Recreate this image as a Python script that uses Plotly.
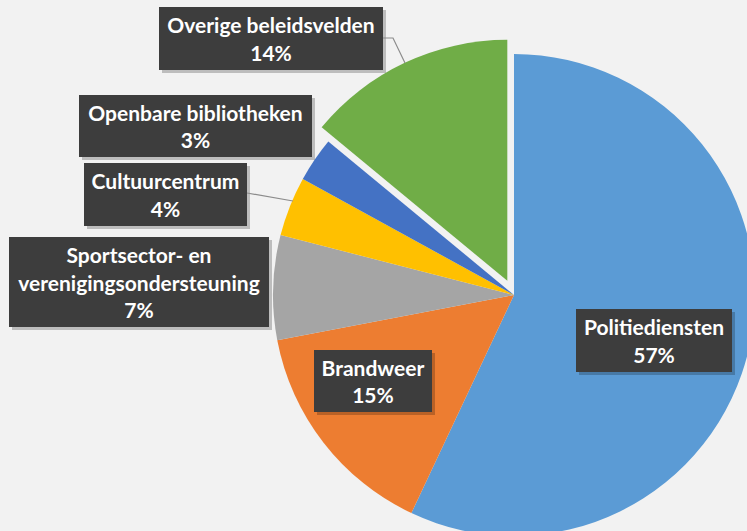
import plotly.graph_objects as go

# ---- data ----
categories = ["Politiediensten", "Brandweer", "Sportsector- en verenigingsondersteuning",
              "Cultuurcentrum", "Openbare bibliotheken", "Overige beleidsvelden"]
display_labels = ["Politiediensten", "Brandweer", "Sportsector- en<br>verenigingsondersteuning",
                  "Cultuurcentrum", "Openbare bibliotheken", "Overige beleidsvelden"]
shares = [57, 15, 7, 4, 3, 14]

# ---- style ----
colors = ["#5B9BD5", "#ED7D31", "#A5A5A5", "#FFC000", "#4472C4", "#70AD47"]
pulls = [0, 0, 0, 0, 0, 0.065]

W, H = 775, 555
cx, cy, r = 514, 295, 241
half = r * (1 + max(pulls))

def px(x):
    return x / W

def py(y):
    return 1 - y / H

fig = go.Figure()
fig.add_trace(go.Pie(
    labels=categories,
    values=shares,
    sort=False,
    direction="clockwise",
    rotation=0,
    pull=pulls,
    marker=dict(colors=colors, line=dict(width=0)),
    textinfo="none",
    hoverinfo="label+percent",
    domain=dict(x=[px(cx - half), px(cx + half)], y=[py(cy + half), py(cy - half)]),
    showlegend=False,
))

# label boxes: (center x, center y, width, height) in pixels
boxes = [
    (654, 340.5, 156, 63),
    (373, 381, 118, 62),
    (139, 282, 260, 90),
    (165.5, 194.5, 163, 63),
    (195.5, 126, 233, 62),
    (271, 38.5, 224, 63),
]

shapes = []
annotations = []
for lab, val, (bx, by, bw, bh) in zip(display_labels, shares, boxes):
    # drop shadow
    shapes.append(dict(type="rect", xref="paper", yref="paper",
                       x0=px(bx - bw / 2 + 3), x1=px(bx + bw / 2 + 3),
                       y0=py(by + bh / 2 + 3), y1=py(by - bh / 2 + 3),
                       line=dict(width=0), fillcolor="rgba(0,0,0,0.22)", layer="above"))
    annotations.append(dict(
        x=px(bx), y=py(by), xref="paper", yref="paper",
        xanchor="center", yanchor="middle",
        text=f"{lab}<br>{val}%", showarrow=False,
        width=bw, height=bh, borderpad=0, borderwidth=0,
        bgcolor="#3d3d3d", align="center", valign="middle",
        font=dict(family="Lato", size=21, color="white", weight="bold"),
    ))

# leader lines
leaders = [
    [(383, 38), (393, 38), (405, 63)],
    [(247, 193), (293, 201)],
]
for pts in leaders:
    path = "M " + " L ".join(f"{px(x)},{py(y)}" for x, y in pts)
    shapes.append(dict(type="path", xref="paper", yref="paper", path=path,
                       line=dict(color="#8c8c8c", width=1.2), layer="above"))

fig.update_layout(
    width=W, height=H,
    margin=dict(l=0, r=0, t=0, b=0),
    paper_bgcolor="#F2F2F2",
    plot_bgcolor="#F2F2F2",
    shapes=shapes,
    annotations=annotations,
)

fig.write_html("out.html",
               config={"displayModeBar": False},
               post_script="document.body.style.margin='0';document.body.style.overflow='hidden';")
